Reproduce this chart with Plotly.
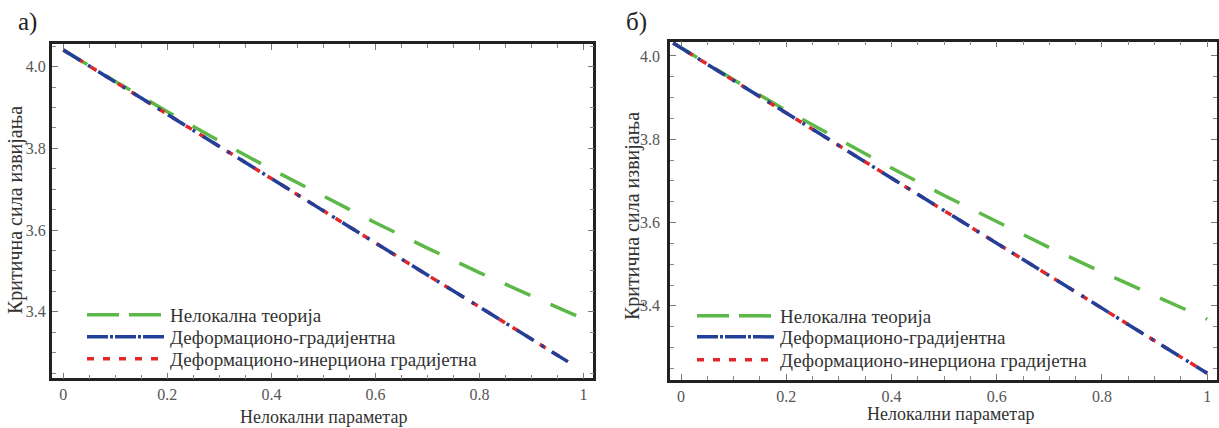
import plotly.graph_objects as go

# ---------------- data ----------------
# panel а)
x_a_green = [0, 0.1, 0.2, 0.3, 0.4, 0.5, 0.6, 0.7, 0.8, 0.9, 1.0]
y_a_green = [4.041, 3.964, 3.890, 3.818, 3.749, 3.683, 3.618, 3.556, 3.496, 3.439, 3.383]
x_a_grad = [0, 0.1, 0.2, 0.3, 0.4, 0.5, 0.6, 0.7, 0.8, 0.9, 0.97]
y_a_blue = [4.041, 3.962, 3.884, 3.805, 3.726, 3.648, 3.569, 3.490, 3.412, 3.333, 3.278]
y_a_red = [4.041, 3.962, 3.884, 3.805, 3.726, 3.648, 3.569, 3.490, 3.412, 3.333, 3.278]

# panel б)
x_b = [-0.015, 0.1, 0.2, 0.3, 0.4, 0.5, 0.6, 0.7, 0.8, 0.9, 1.0]
y_b_green = [4.031, 3.943, 3.869, 3.799, 3.731, 3.665, 3.602, 3.540, 3.481, 3.424, 3.368]
y_b_blue = [4.031, 3.941, 3.863, 3.785, 3.707, 3.628, 3.550, 3.472, 3.394, 3.316, 3.238]
y_b_red = [4.031, 3.941, 3.863, 3.785, 3.707, 3.628, 3.550, 3.472, 3.394, 3.316, 3.238]

names = ["Нелокална теорија", "Деформационо-градијентна", "Деформационо-инерциона градијетна"]
x_tickvals = [0, 0.2, 0.4, 0.6, 0.8, 1.0]
x_ticktext = ["0", "0.2", "0.4", "0.6", "0.8", "1"]
y_tickvals = [3.4, 3.6, 3.8, 4.0]
y_ticktext = ["3.4", "3.6", "3.8", "4.0"]
panel_labels = ["а)", "б)"]
x_title = "Нелокални параметар"
y_title = "Критична сила извијања"

# ---------------- styling ----------------
GREEN = "#5db947"
BLUE = "#22409a"
RED = "#e0282a"
W = 1219
H = 428
SERIF = "Liberation Serif"

# line styles inside the plot
plot_styles = [
    dict(color=GREEN, width=3.5, dash="28px,22px"),
    dict(color=BLUE, width=3.5, dash="20px,9px,3px,9px"),
    dict(color=RED, width=3.5, dash="7px,9px"),
]
# line styles of the legend samples
legend_styles = [
    dict(color=GREEN, width=3.5, dash="32px,10px"),
    dict(color=BLUE, width=3.5, dash="21px,2px,3px,2px"),
    dict(color=RED, width=3.5, dash="7px,9px"),
]


def px_x(p):
    return p / W


def px_y(p):
    return (H - p) / H


fig = go.Figure()

panels = [
    ("x", "y", ["legend2", "legend3", "legend4"], x_a_green, y_a_green, x_a_grad, y_a_blue, y_a_red),
    ("x2", "y2", ["legend5", "legend6", "legend7"], x_b, y_b_green, x_b, y_b_blue, y_b_red),
]
for xa, ya, lgs, xg, yg, xbr, yb, yr in panels:
    # curves: draw order green, red, blue (blue on top)
    fig.add_trace(go.Scatter(x=xg, y=yg, mode="lines", name=names[0], line=plot_styles[0],
                             xaxis=xa, yaxis=ya, showlegend=False, hoverinfo="skip"))
    fig.add_trace(go.Scatter(x=xbr, y=yr, mode="lines", name=names[2], line=plot_styles[2],
                             xaxis=xa, yaxis=ya, showlegend=False, hoverinfo="skip"))
    fig.add_trace(go.Scatter(x=xbr, y=yb, mode="lines", name=names[1], line=plot_styles[1],
                             xaxis=xa, yaxis=ya, showlegend=False, hoverinfo="skip"))
    # legend entries (no drawn data), one legend box per row
    for i in range(3):
        fig.add_trace(go.Scatter(x=[None], y=[None], mode="lines", name=names[i],
                                 line=legend_styles[i], xaxis=xa, yaxis=ya,
                                 legend=lgs[i], showlegend=True, hoverinfo="skip"))

frame = dict(showline=True, linewidth=2.6, linecolor="#222222", mirror="ticks",
             ticks="inside", ticklen=6, tickwidth=1, tickcolor="#777777",
             showgrid=False, zeroline=False,
             tickfont=dict(family=SERIF, size=16, color="#555555"))

xaxis_common = dict(frame, tickvals=x_tickvals, ticktext=x_ticktext,
                    minor=dict(dtick=0.05, tick0=0, ticks="inside", ticklen=4,
                               tickcolor="#888888", showgrid=False))
yaxis_common = dict(frame, tickvals=y_tickvals, ticktext=y_ticktext,
                    minor=dict(dtick=0.05, tick0=0, ticks="inside", ticklen=4,
                               tickcolor="#888888", showgrid=False))

legend_common = dict(font=dict(family=SERIF, size=19, color="#333333"),
                     bgcolor="rgba(0,0,0,0)", borderwidth=0, itemwidth=78,
                     xanchor="left", yanchor="top", traceorder="normal",
                     tracegroupgap=0, xref="paper", yref="paper")

# pixel rows of the legend entries (centres) and the offset from box top to centre
row_a = [314, 336, 358]
row_b = [315, 336, 359]
HALF = 18
fig.update_layout(
    width=W, height=H,
    margin=dict(l=0, r=0, t=0, b=0),
    paper_bgcolor="white", plot_bgcolor="white",
    showlegend=True,
    xaxis=dict(xaxis_common, domain=[px_x(51.7), px_x(593.3)], range=[-0.0224, 1.019],
               anchor="y", ticklabelstandoff=0),
    yaxis=dict(yaxis_common, domain=[px_y(378.3), px_y(44)], range=[3.2372, 4.0556],
               anchor="x", ticklabelstandoff=0),
    xaxis2=dict(xaxis_common, domain=[px_x(670), px_x(1216.7)], range=[-0.021, 1.018],
                anchor="y2", ticklabelstandoff=0),
    yaxis2=dict(yaxis_common, domain=[px_y(380), px_y(41.5)], range=[3.222, 4.0348],
                anchor="x2", ticklabelstandoff=4),
    legend2=dict(legend_common, x=px_x(82), y=px_y(row_a[0] - HALF)),
    legend3=dict(legend_common, x=px_x(82), y=px_y(row_a[1] - HALF)),
    legend4=dict(legend_common, x=px_x(82), y=px_y(row_a[2] - HALF)),
    legend5=dict(legend_common, x=px_x(692), y=px_y(row_b[0] - HALF)),
    legend6=dict(legend_common, x=px_x(692), y=px_y(row_b[1] - HALF)),
    legend7=dict(legend_common, x=px_x(692), y=px_y(row_b[2] - HALF)),
)

annotations = [
    dict(text=panel_labels[0], x=px_x(27), y=px_y(22)),
    dict(text=panel_labels[1], x=px_x(636), y=px_y(22)),
]
for a in annotations:
    a.update(xref="paper", yref="paper", showarrow=False, xanchor="center", yanchor="middle",
             font=dict(family=SERIF, size=25, color="#222222"))

titles = [
    dict(text=x_title, x=px_x(323), y=px_y(417), textangle=0, size=18),
    dict(text=x_title, x=px_x(950), y=px_y(414), textangle=0, size=18),
    dict(text=y_title, x=px_x(15), y=px_y(210), textangle=-90, size=20),
    dict(text=y_title, x=px_x(632), y=px_y(216), textangle=-90, size=20),
]
for t in titles:
    size = t.pop("size")
    t.update(xref="paper", yref="paper", showarrow=False, xanchor="center", yanchor="middle",
             font=dict(family=SERIF, size=size, color="#333333"))

fig.update_layout(annotations=annotations + titles)

fig.write_html("out.html", config={"displayModeBar": False},
               post_script="document.body.style.margin='0px';")
